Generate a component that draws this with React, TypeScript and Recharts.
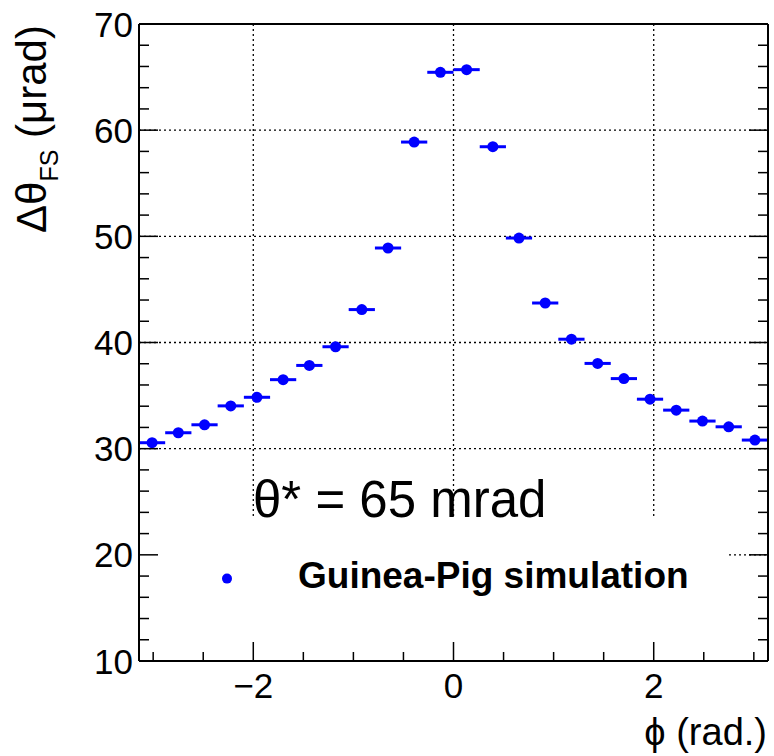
import {
  ComposedChart,
  Scatter,
  ErrorBar,
  XAxis,
  YAxis,
  CartesianGrid,
  ReferenceArea,
} from 'recharts';

const FONT = '"Liberation Sans", Arial, Helvetica, sans-serif';
const BLUE = '#0000ff';

// phi bin centres (24 bins over -pi..pi)
const PHI = [
  -3.011, -2.749, -2.487, -2.225, -1.963, -1.702, -1.44, -1.178, -0.916, -0.654, -0.393, -0.131,
  0.131, 0.393, 0.654, 0.916, 1.178, 1.44, 1.702, 1.963, 2.225, 2.487, 2.749, 3.011,
];
// delta theta_FS in urad
const DTHETA = [
  30.56, 31.5, 32.25, 34.03, 34.84, 36.5, 37.84, 39.6, 43.1, 48.9, 58.88, 65.45,
  65.7, 58.44, 49.84, 43.72, 40.31, 38.03, 36.6, 34.66, 33.63, 32.6, 32.06, 30.81,
];
const BIN_HALF_WIDTH = 0.131;

const X_TICKS = [-3, -2.5, -2, -1.5, -1, -0.5, 0, 0.5, 1, 1.5, 2, 2.5, 3];
const Y_TICKS = [10, 12, 14, 16, 18, 20, 22, 24, 26, 28, 30, 32, 34, 36, 38, 40, 42, 44, 46, 48, 50, 52, 54, 56, 58, 60, 62, 64, 66, 68, 70];
const X_GRID = [-2, 0, 2];
const Y_GRID = [20, 30, 40, 50, 60];

const data = PHI.map((phi, i) => ({ phi, dtheta: DTHETA[i], ex: BIN_HALF_WIDTH }));

const isMajorX = (v: number) => v % 2 === 0;
const isMajorY = (v: number) => v % 10 === 0;
const fmt = (v: number) => (v < 0 ? `\u2212${Math.abs(v)}` : `${v}`);

function LeftTick({ x, y, payload }: any) {
  const major = isMajorY(payload.value);
  return (
    <g>
      <line x1={x} x2={x + (major ? 19 : 10)} y1={y} y2={y} stroke="#000" strokeWidth={1.5} />
      {major && (
        <text x={x - 6} y={y + 12.5} textAnchor="end" fontSize={35} fill="#000" fontFamily={FONT}>
          {payload.value}
        </text>
      )}
    </g>
  );
}

function RightTick({ x, y, payload }: any) {
  const major = isMajorY(payload.value);
  return <line x1={x} x2={x - (major ? 19 : 10)} y1={y} y2={y} stroke="#000" strokeWidth={1.5} />;
}

function BottomTick({ x, y, payload }: any) {
  const major = isMajorX(payload.value);
  return (
    <g>
      <line x1={x} x2={x} y1={y} y2={y - (major ? 19 : 9)} stroke="#000" strokeWidth={1.5} />
      {major && (
        <text x={x} y={y + 37} textAnchor="middle" fontSize={35} fill="#000" fontFamily={FONT}>
          {fmt(payload.value)}
        </text>
      )}
    </g>
  );
}

function TopTick({ x, y, payload }: any) {
  const major = isMajorX(payload.value);
  return <line x1={x} x2={x} y1={y} y2={y + (major ? 19 : 9)} stroke="#000" strokeWidth={1.5} />;
}

function YTitle() {
  return (
    <text transform="translate(46, 233) rotate(-90)" fontSize={42} fill="#000" fontFamily={FONT}>
      Δθ
      <tspan fontSize={25} dy={12}>FS</tspan>
      <tspan dy={-12}> (μrad)</tspan>
    </text>
  );
}

function XTitle() {
  return (
    <text x={767} y={745} textAnchor="end" fontSize={38} fill="#000" fontFamily={FONT}>
      ϕ (rad.)
    </text>
  );
}

function BoxText({ viewBox }: any) {
  const { x, y } = viewBox;
  return (
    <g fontFamily={FONT} fill="#000">
      <text x={x + 114} y={y} fontSize={51}>θ* = 65 mrad</text>
      <circle cx={x + 88} cy={y + 62} r={5} fill={BLUE} />
      <text x={x + 159} y={y + 71} fontSize={37} fontWeight="bold">Guinea-Pig simulation</text>
    </g>
  );
}

const DataDot = (p: any) => <circle cx={p.cx} cy={p.cy} r={5.5} fill={BLUE} />;

export default function App() {
  const axisLine = { stroke: '#000', strokeWidth: 2 };
  return (
    <div style={{ position: 'absolute', left: 0, top: 0, background: '#fff' }}>
      <ComposedChart width={774} height={756} margin={{ top: 0, right: 0, bottom: 0, left: 0 }}>
        <CartesianGrid
          horizontalValues={Y_GRID}
          verticalValues={X_GRID}
          stroke="#000"
          strokeWidth={1.3}
          strokeDasharray="2 3"
        />
        <ReferenceArea
          x1={-Math.PI}
          x2={2.74}
          y1={10}
          y2={23.6}
          fill="#fff"
          fillOpacity={1}
          stroke="none"
          label={(props: any) => <BoxText {...props} />}
        />
        <XAxis
          dataKey="phi"
          type="number"
          domain={[-Math.PI, Math.PI]}
          allowDataOverflow
          ticks={X_TICKS}
          interval={0}
          height={95}
          tickSize={0}
          tickMargin={0}
          tickLine={false}
          axisLine={axisLine}
          tick={BottomTick}
          label={() => <XTitle />}
        />
        <XAxis
          xAxisId="top"
          orientation="top"
          type="number"
          domain={[-Math.PI, Math.PI]}
          allowDataOverflow
          ticks={X_TICKS}
          interval={0}
          height={24}
          tickSize={0}
          tickMargin={0}
          tickLine={false}
          axisLine={axisLine}
          tick={TopTick}
        />
        <YAxis
          dataKey="dtheta"
          type="number"
          domain={[10, 70]}
          allowDataOverflow
          ticks={Y_TICKS}
          interval={0}
          width={139}
          tickSize={0}
          tickMargin={0}
          tickLine={false}
          axisLine={axisLine}
          tick={LeftTick}
          label={() => <YTitle />}
        />
        <YAxis
          yAxisId="right"
          orientation="right"
          type="number"
          domain={[10, 70]}
          allowDataOverflow
          ticks={Y_TICKS}
          interval={0}
          width={6}
          tickSize={0}
          tickMargin={0}
          tickLine={false}
          axisLine={axisLine}
          tick={RightTick}
        />
        <Scatter data={data} dataKey="dtheta" fill={BLUE} shape={DataDot} isAnimationActive={false}>
          <ErrorBar dataKey="ex" direction="x" width={0} stroke={BLUE} strokeWidth={3} />
        </Scatter>
      </ComposedChart>
    </div>
  );
}
